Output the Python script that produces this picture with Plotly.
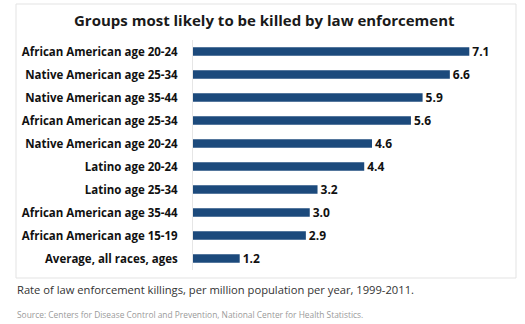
import plotly.graph_objects as go

categories = [
    "African American age 20-24",
    "Native American age 25-34",
    "Native American age 35-44",
    "African American age 25-34",
    "Native American age 20-24",
    "Latino age 20-24",
    "Latino age 25-34",
    "African American age 35-44",
    "African American age 15-19",
    "Average, all races, ages",
]
values = [7.1, 6.6, 5.9, 5.6, 4.6, 4.4, 3.2, 3.0, 2.9, 1.2]
value_labels = ["7.1", "6.6", "5.9", "5.6", "4.6", "4.4", "3.2", "3.0", "2.9", "1.2"]

title = "Groups most likely to be killed by law enforcement"
caption = "Rate of law enforcement killings, per million population per year, 1999-2011."
source = "Source: Centers for Disease Control and Prevention, National Center for Health Statistics."

W, H = 525, 324
ML, MR, MT, MB = 193, 9, 40, 54
pw = W - ML - MR
ph = H - MT - MB

def px(x):
    return (x - ML) / pw

def py(y):
    return (H - MB - y) / ph

fig = go.Figure(go.Bar(
    x=values,
    y=categories,
    orientation="h",
    marker=dict(color="#1c4a7c", line=dict(width=0)),
    text=["<b>" + t + "</b>" for t in value_labels],
    textposition="outside",
    constraintext="none",
    textfont=dict(family="Open Sans", size=12, color="#111111"),
    cliponaxis=False,
    width=0.36,
    hoverinfo="skip",
))

fig.update_layout(
    width=W, height=H,
    margin=dict(l=ML, r=MR, t=MT, b=MB),
    paper_bgcolor="white",
    plot_bgcolor="white",
    showlegend=False,
    font=dict(family="Open Sans", color="#111111"),
    xaxis=dict(range=[0, 8.3], visible=False, fixedrange=True),
    yaxis=dict(
        autorange="reversed",
        showline=True, linecolor="#e6e6e6", linewidth=1,
        ticks="", showgrid=False,
        ticklabelstandoff=12,
        tickfont=dict(family="Open Sans", size=11.5, color="#111111", weight="bold"),
    ),
    shapes=[
        dict(type="rect", xref="paper", yref="paper",
             x0=px(16), x1=px(516), y0=py(278), y1=py(4),
             line=dict(color="#e3e3e3", width=1), fillcolor="rgba(0,0,0,0)", layer="below"),
    ],
    annotations=[
        dict(text="<b>" + title + "</b>", xref="paper", yref="paper",
             x=px(264), y=py(20), xanchor="center", yanchor="middle", showarrow=False,
             font=dict(family="Open Sans", size=15, color="#1a1a1a")),
        dict(text=caption, xref="paper", yref="paper",
             x=px(15), y=py(289), xanchor="left", yanchor="middle", showarrow=False,
             font=dict(family="Open Sans", size=11.2, color="#333333")),
        dict(text=source, xref="paper", yref="paper",
             x=px(15), y=py(314), xanchor="left", yanchor="middle", showarrow=False,
             font=dict(family="Open Sans", size=8.4, color="#9a9a9a")),
    ],
)

fig.write_html("out.html")
